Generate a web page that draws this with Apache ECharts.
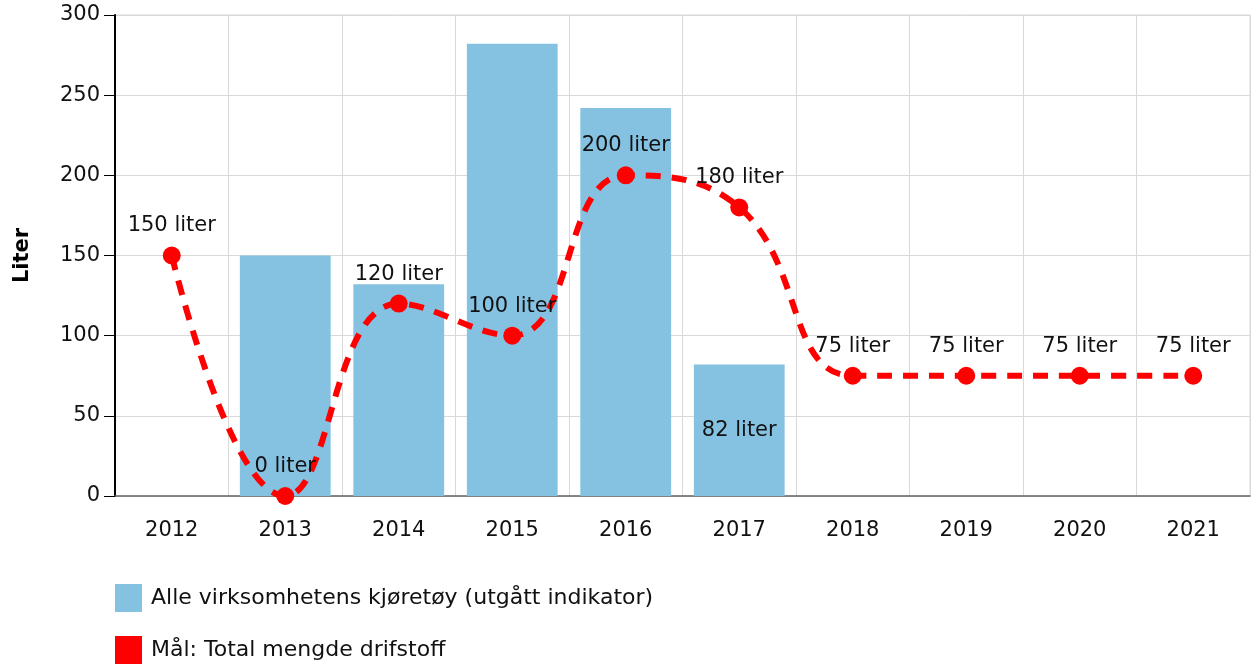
<!DOCTYPE html>
<html>
<head>
<meta charset="utf-8">
<script src="https://cdn.jsdelivr.net/npm/echarts@6/dist/echarts.min.js"></script>
<style>
  html, body { margin: 0; padding: 0; background: #fff; }
  #chart { width: 1254px; height: 667px; }
</style>
</head>
<body>
<div id="chart"></div>
<script>
const years = ['2012', '2013', '2014', '2015', '2016', '2017', '2018', '2019', '2020', '2021']
const kjoretoy = [null, 150, 132, 282, 242, 82, null, null, null, null]
const maal = [150, 0, 120, 100, 200, 180, 75, 75, 75, 75]
const yTicks = [0, 50, 100, 150, 200, 250, 300]

const fontFamily = '"DejaVu Sans", Verdana, sans-serif'
const fs = 21
const chart = echarts.init(document.getElementById('chart'))

// bare siste søyle har synlig etikett
const barData = kjoretoy.map((v, i) => ({
  value: v,
  label: { show: i === 5 }
}))

chart.setOption({
  animation: false,
  textStyle: { fontFamily: fontFamily },
  grid: { left: 115, right: 4, top: 15, bottom: 171, show: true, borderColor: '#d9d9d9', borderWidth: 1 },
  legend: {
    orient: 'vertical',
    left: 110,
    top: 579,
    height: 88,
    itemWidth: 27,
    itemHeight: 28,
    itemGap: 24,
    icon: 'rect',
    textStyle: { fontSize: 22, color: '#111', fontFamily: fontFamily, padding: [0, 0, 0, 4] },
    data: ['Alle virksomhetens kjøretøy (utgått indikator)', 'Mål: Total mengde drifstoff']
  },
  xAxis: {
    type: 'category',
    data: years,
    axisLine: { lineStyle: { color: '#666', width: 1.5 } },
    axisTick: { alignWithLabel: true, length: 8, lineStyle: { color: '#aaa' } },
    axisLabel: { fontSize: fs, color: '#111', margin: 24 },
    splitLine: { show: true, lineStyle: { color: '#d9d9d9' } }
  },
  yAxis: {
    type: 'value',
    min: yTicks[0],
    max: yTicks[yTicks.length - 1],
    interval: 50,
    name: 'Liter',
    nameLocation: 'middle',
    nameGap: 82,
    nameTextStyle: { fontSize: fs, fontWeight: 'bold', color: '#000' },
    axisLine: { show: true, lineStyle: { color: '#000', width: 2 } },
    axisTick: { show: true, length: 11, lineStyle: { color: '#000' } },
    axisLabel: { fontSize: fs, color: '#111', margin: 15 },
    splitLine: { lineStyle: { color: '#d9d9d9' } }
  },
  series: [
    {
      name: 'Alle virksomhetens kjøretøy (utgått indikator)',
      type: 'bar',
      data: barData,
      barCategoryGap: '20%',
      itemStyle: { color: '#85c2e1' },
      label: {
        position: 'inside',
        fontSize: fs,
        color: '#111',
        formatter: p => p.value + ' liter'
      }
    },
    {
      name: 'Mål: Total mengde drifstoff',
      type: 'line',
      data: maal,
      smooth: 0.45,
      symbol: 'circle',
      symbolSize: 18,
      itemStyle: { color: '#ff0000' },
      lineStyle: { color: '#ff0000', width: 6, type: [15, 11] },
      label: {
        show: true,
        position: 'top',
        distance: 10,
        fontSize: fs,
        color: '#111',
        formatter: p => p.value + ' liter'
      }
    }
  ]
})
</script>
</body>
</html>
